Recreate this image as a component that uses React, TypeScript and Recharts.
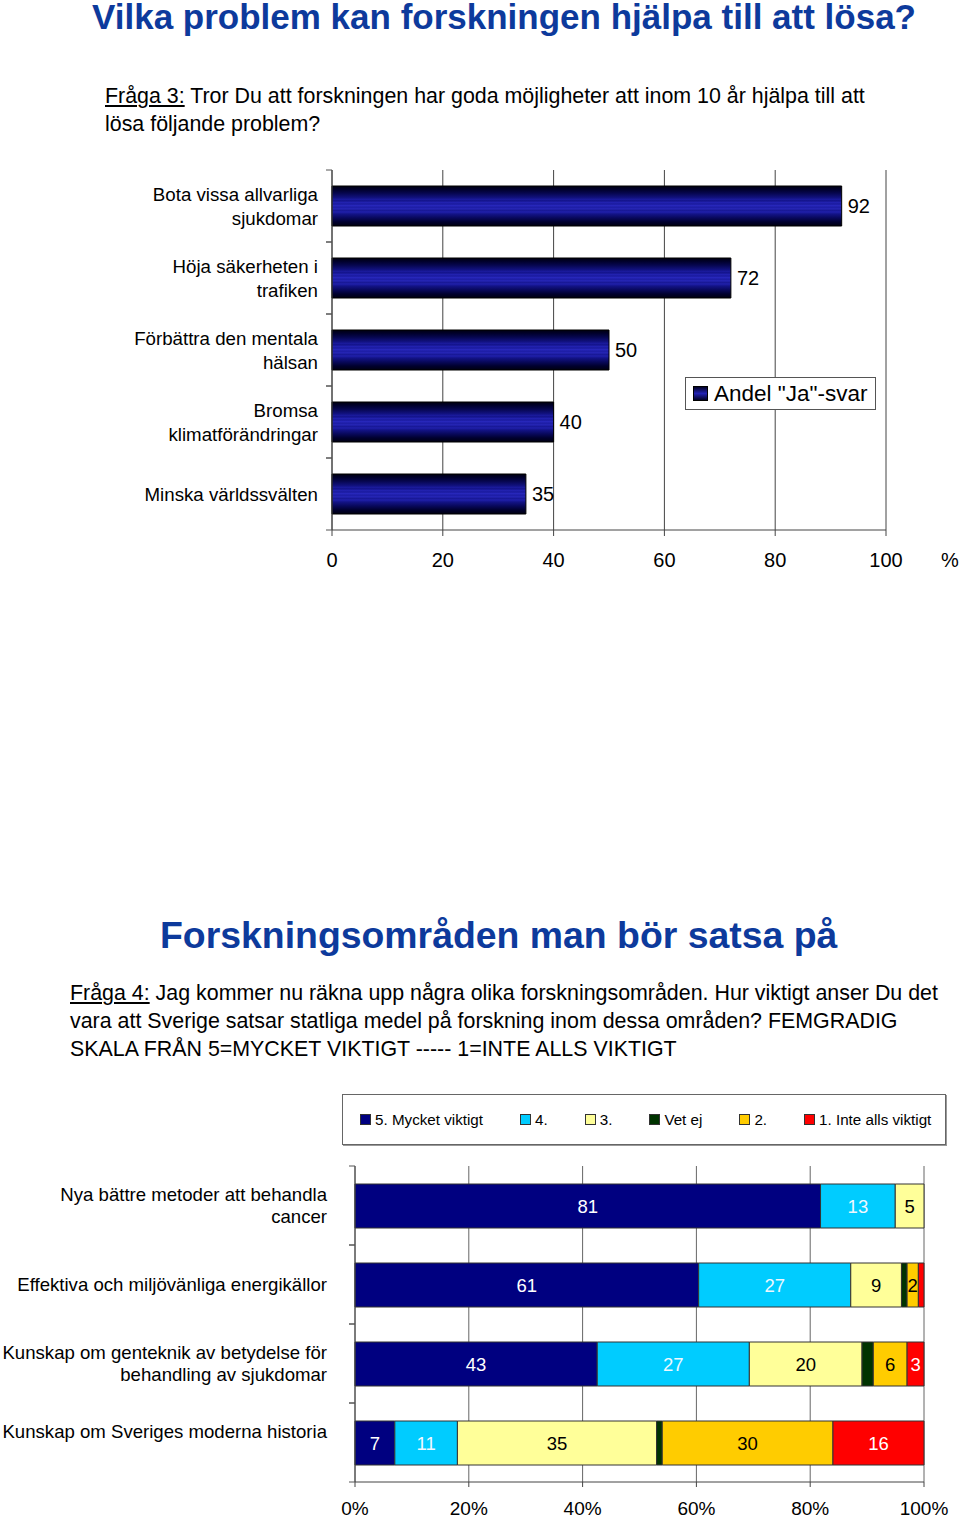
import React from "react";
import {
  Bar,
  BarChart,
  CartesianGrid,
  Label,
  LabelList,
  Legend,
  XAxis,
  YAxis
} from "recharts";

// Fråga 3 – andel "Ja"-svar per problem
const problems = [
  "Bota vissa allvarliga\nsjukdomar",
  "Höja säkerheten i\ntrafiken",
  "Förbättra den mentala\nhälsan",
  "Bromsa\nklimatförändringar",
  "Minska världssvälten"
];
const jaShare = [92, 72, 50, 40, 35];
const jaTicks = [0, 20, 40, 60, 80, 100];

// Fråga 4 – femgradig skala per forskningsområde
const areas = [
  "Nya bättre metoder att behandla\ncancer",
  "Effektiva och miljövänliga energikällor",
  "Kunskap om genteknik av betydelse för\nbehandling av sjukdomar",
  "Kunskap om Sveriges moderna historia\n"
];
const mycketViktigt = [81, 61, 43, 7];
const fyra = [13, 27, 27, 11];
const tre = [5, 9, 20, 35];
const vetEj = [0, 1, 2, 1];
const tva = [0, 2, 6, 30];
const inteAlls = [0, 1, 3, 16];
const shareTicks = [0, 0.2, 0.4, 0.6, 0.8, 1];

const scaleSeries = [
  { key: "s5", name: "5. Mycket viktigt", color: "#000080", text: "#ffffff" },
  { key: "s4", name: "4.", color: "#00ccff", text: "#eef8ff" },
  { key: "s3", name: "3.", color: "#ffff99", text: "#000000" },
  { key: "vet", name: "Vet ej", color: "#003300", text: null },
  { key: "s2", name: "2.", color: "#ffcc00", text: "#000000" },
  { key: "s1", name: "1. Inte alls viktigt", color: "#ff0000", text: "#ffffff" }
];

const problemData = problems.map((name, i) => ({ name, share: jaShare[i] }));
const areaData = areas.map((name, i) => ({
  name,
  s5: mycketViktigt[i],
  s4: fyra[i],
  s3: tre[i],
  vet: vetEj[i],
  s2: tva[i],
  s1: inteAlls[i]
}));

const FONT = '"Liberation Sans", Arial, Helvetica, sans-serif';
const TITLE_BLUE = "#0d3a9c";

// striped navy fill, like the old Excel gradient
const jaStops: [number, string][] = [
  [0, "#000010"],
  [0.08, "#00002a"],
  [0.18, "#06064f"],
  [0.28, "#10107a"],
  [0.34, "#1a1a9c"],
  [0.37, "#13138a"],
  [0.41, "#2222b0"],
  [0.45, "#1a1a9e"],
  [0.49, "#2828bc"],
  [0.53, "#1c1ca4"],
  [0.57, "#2626b6"],
  [0.61, "#181896"],
  [0.65, "#2020aa"],
  [0.7, "#131386"],
  [0.8, "#08085a"],
  [0.9, "#00002e"],
  [1, "#000010"]
];

function makeCategoryTick(gap: number, lineHeight: number, band: number, fontSize: number) {
  return (props: any) => {
    const { x, y, payload } = props;
    const lines = String(payload.value).split("\n");
    return (
      <g>
        <line x1={x - 6} x2={x} y1={y - band / 2} y2={y - band / 2} stroke="#555" />
        <line x1={x - 6} x2={x} y1={y + band / 2} y2={y + band / 2} stroke="#555" />
        {lines.map((ln, i) => (
          <text
            key={i}
            x={x - gap}
            y={y + (i - (lines.length - 1) / 2) * lineHeight}
            textAnchor="end"
            dominantBaseline="central"
            fontSize={fontSize}
            fill="#000"
          >
            {ln}
          </text>
        ))}
      </g>
    );
  };
}

function makeSegmentLabel(color: string | null) {
  return (props: any) => {
    const { x, y, width, height, value } = props;
    if (!color || width < 8) return null;
    return (
      <text x={x + width / 2} y={y + height / 2} textAnchor="middle" dominantBaseline="central" fontSize={18.5} fill={color}>
        {value}
      </text>
    );
  };
}

function JaLegend() {
  return (
    <div
      style={{
        boxSizing: "border-box",
        width: 191,
        height: 33,
        border: "1px solid #555",
        background: "#fff",
        display: "flex",
        alignItems: "center",
        paddingLeft: 7,
        fontSize: 22.5,
        fontFamily: FONT,
        whiteSpace: "nowrap"
      }}
    >
      <svg width={15} height={15} style={{ marginRight: 6 }}>
        <defs>
          <linearGradient id="jaLegendFill" x1="0" y1="0" x2="0" y2="1">
            <stop offset="0" stopColor="#00001a" />
            <stop offset="0.5" stopColor="#2222b4" />
            <stop offset="1" stopColor="#00001a" />
          </linearGradient>
        </defs>
        <rect x={0.5} y={0.5} width={14} height={14} fill="url(#jaLegendFill)" stroke="#000" />
      </svg>
      <span>Andel "Ja"-svar</span>
    </div>
  );
}

function ScaleLegend() {
  return (
    <div
      style={{
        boxSizing: "border-box",
        width: 604,
        height: 51,
        border: "1px solid #666",
        boxShadow: "1px 1px 0 #999",
        background: "#fff",
        display: "flex",
        alignItems: "center",
        paddingLeft: 17,
        gap: 37,
        fontSize: 15.2,
        fontFamily: FONT
      }}
    >
      {scaleSeries.map((s) => (
        <div key={s.key} style={{ display: "flex", alignItems: "center", whiteSpace: "nowrap" }}>
          <span
            style={{
              display: "inline-block",
              width: 9,
              height: 9,
              background: s.color,
              border: "1px solid #333",
              marginRight: 4
            }}
          />
          {s.name}
        </div>
      ))}
    </div>
  );
}

export default function App() {
  return (
    <div
      style={{
        position: "absolute",
        left: 0,
        top: 0,
        width: 960,
        height: 1520,
        background: "#fff",
        fontFamily: FONT,
        color: "#000"
      }}
    >
      <div
        style={{
          position: "absolute",
          left: 92,
          top: -1,
          fontSize: 35,
          lineHeight: "35px",
          fontWeight: "bold",
          color: TITLE_BLUE,
          whiteSpace: "nowrap"
        }}
      >
        Vilka problem kan forskningen hjälpa till att lösa?
      </div>
      <div
        style={{
          position: "absolute",
          left: 105,
          top: 82,
          fontSize: 21.4,
          lineHeight: "28px",
          whiteSpace: "nowrap"
        }}
      >
        <span style={{ textDecoration: "underline" }}>Fråga 3:</span> Tror Du att forskningen har goda möjligheter att
        inom 10 år hjälpa till att
        <br />
        lösa följande problem?
      </div>

      <div style={{ position: "absolute", left: 0, top: 0, width: 960, height: 600 }}>
        <BarChart
          width={960}
          height={600}
          data={problemData}
          layout="vertical"
          margin={{ top: 170, right: 74, bottom: 0, left: 0 }}
        >
          <defs>
            <linearGradient id="jaFill" x1="0" y1="0" x2="0" y2="1">
              {jaStops.map(([o, c]) => (
                <stop key={o} offset={o} stopColor={c} />
              ))}
            </linearGradient>
          </defs>
          <CartesianGrid horizontal={false} stroke="#444" />
          <XAxis
            type="number"
            domain={[0, 100]}
            ticks={jaTicks}
            height={70}
            stroke="#444"
            tickSize={6}
            tickMargin={17}
            tick={{ fontSize: 20, fill: "#000" }}
          >
            <Label value="%" position="right" offset={55} dy={-5} fontSize={20} fill="#000" />
          </XAxis>
          <YAxis
            type="category"
            dataKey="name"
            width={332}
            stroke="#444"
            tickLine={false}
            tickSize={0}
            tickMargin={0}
            interval={0}
            tick={makeCategoryTick(14, 24, 72, 18.7)}
          />
          <Legend
            layout="horizontal"
            verticalAlign="middle"
            align="center"
            wrapperStyle={{ left: 685, top: 377, width: 191, height: 33 }}
            content={() => <JaLegend />}
          />
          <Bar dataKey="share" barSize={40} fill="url(#jaFill)" stroke="#000" isAnimationActive={false}>
            <LabelList dataKey="share" position="right" offset={6} fontSize={20} fill="#000" />
          </Bar>
        </BarChart>
      </div>

      <div
        style={{
          position: "absolute",
          left: 160,
          top: 917,
          fontSize: 37.4,
          lineHeight: "37px",
          fontWeight: "bold",
          color: TITLE_BLUE,
          whiteSpace: "nowrap"
        }}
      >
        Forskningsområden man bör satsa på
      </div>
      <div
        style={{
          position: "absolute",
          left: 70,
          top: 979,
          fontSize: 21.4,
          lineHeight: "28px",
          whiteSpace: "nowrap"
        }}
      >
        <span style={{ textDecoration: "underline" }}>Fråga 4:</span> Jag kommer nu räkna upp några olika
        forskningsområden. Hur viktigt anser Du det
        <br />
        vara att Sverige satsar statliga medel på forskning inom dessa områden? FEMGRADIG
        <br />
        SKALA FRÅN 5=MYCKET VIKTIGT ----- 1=INTE ALLS VIKTIGT
      </div>

      <div style={{ position: "absolute", left: 0, top: 1080, width: 960, height: 440 }}>
        <BarChart
          width={960}
          height={440}
          data={areaData}
          layout="vertical"
          stackOffset="expand"
          margin={{ top: 86, right: 36, bottom: 0, left: 0 }}
        >
          <CartesianGrid horizontal={false} stroke="#666" />
          <XAxis
            type="number"
            domain={[0, 1]}
            ticks={shareTicks}
            tickFormatter={(v: number) => `${Math.round(v * 100)}%`}
            height={38}
            stroke="#444"
            tickSize={5}
            tickMargin={15}
            tick={{ fontSize: 19, fill: "#000" }}
          />
          <YAxis
            type="category"
            dataKey="name"
            width={355}
            stroke="#444"
            tickLine={false}
            tickSize={0}
            tickMargin={0}
            interval={0}
            tick={makeCategoryTick(28, 22, 79, 18.6)}
          />
          <Legend
            layout="horizontal"
            verticalAlign="middle"
            align="center"
            wrapperStyle={{ left: 342, top: 14, width: 604, height: 51 }}
            content={() => <ScaleLegend />}
          />
          {scaleSeries.map((s) => (
            <Bar
              key={s.key}
              dataKey={s.key}
              name={s.name}
              stackId="a"
              barSize={44}
              fill={s.color}
              stroke="#333"
              strokeWidth={1}
              isAnimationActive={false}
            >
              {s.text ? <LabelList dataKey={s.key} content={makeSegmentLabel(s.text)} /> : null}
            </Bar>
          ))}
        </BarChart>
      </div>
    </div>
  );
}
